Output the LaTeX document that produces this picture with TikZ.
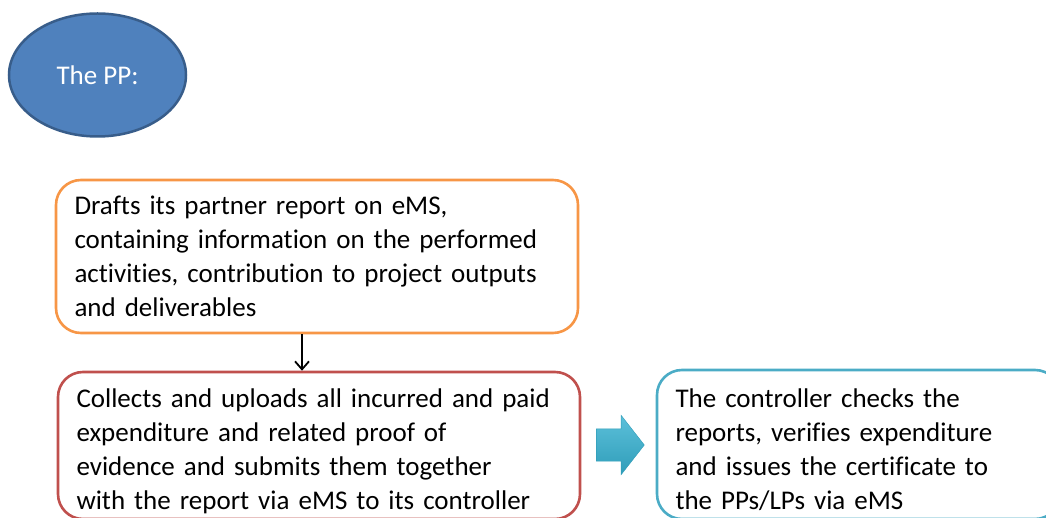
\documentclass[tikz,border=0pt]{standalone}
\usepackage{fontspec}
\setmainfont[Ligatures=NoCommon]{Carlito}
\usepackage{tikz}
\usetikzlibrary{shapes.geometric,shapes.arrows,arrows.meta}
\definecolor{ppfill}{HTML}{4F81BD}
\definecolor{ppline}{HTML}{385D8A}
\definecolor{draftline}{HTML}{F79646}
\definecolor{collectline}{HTML}{C0504D}
\definecolor{ctrlline}{HTML}{4BACC6}
\definecolor{blktop}{HTML}{5CC0DA}
\definecolor{blkbot}{HTML}{2F9DB9}
\newcommand{\firstline}{\rule{0pt}{30pt}}
\tikzset{
	txt/.style={font=\fontsize{27}{34}\selectfont},
	stepbox/.style={txt, draw=#1, line width=2.6pt, rounded corners=25pt, fill=white,
		align=left, inner xsep=17pt, inner ysep=0pt},
	flow/.style={-{Straight Barb[length=8pt,width=14pt]}, line width=1.8pt, black}
}
\begin{document}
\begin{tikzpicture}[x=1pt,y=-1pt]
			%%%%% START %%%%%
			\useasboundingbox (0,0) rectangle (1046,518);
			
			\node[ellipse, fill=ppfill, draw=ppline, line width=2.5pt, minimum width=177pt,
				minimum height=123pt, inner sep=0pt, txt, text=white] (pp) at (97.5,75) {The PP:};
			
			\node[stepbox=draftline, minimum width=522pt, minimum height=153pt, text width=485pt]
				(draft) at (317,256.5) {Drafts its partner report on eMS,\\
				containing information on the performed\\
				activities, contribution to project outputs\\
				and deliverables};
			
			\node[stepbox=collectline, minimum width=522pt, minimum height=147pt, text width=485pt]
				(collect) at (319,445.5) {\firstline Collects and uploads all incurred and paid\\
				expenditure and related proof of\\
				evidence and submits them together\\
				with the report via eMS to its controller};
			
			\node[stepbox=ctrlline, minimum width=403pt, minimum height=149pt, text width=366pt]
				(ctrl) at (858.5,444.5) {\firstline The controller checks the\\
				reports, verifies expenditure\\
				and issues the certificate to\\
				the PPs/LPs via eMS};
			
			\draw[flow] ([xshift=-15pt]draft.south) -- ([xshift=-15pt]draft.south |- collect.north);
			
			\node[single arrow, top color=blktop, bottom color=blkbot, draw=blkbot, line width=0.4pt,
				minimum height=48pt, inner xsep=0pt, inner ysep=16pt,
				single arrow head extend=13.5pt, single arrow tip angle=104] (blk) at (614,445) {};
			
			%%%%% END %%%%%
\end{tikzpicture}
\end{document}
